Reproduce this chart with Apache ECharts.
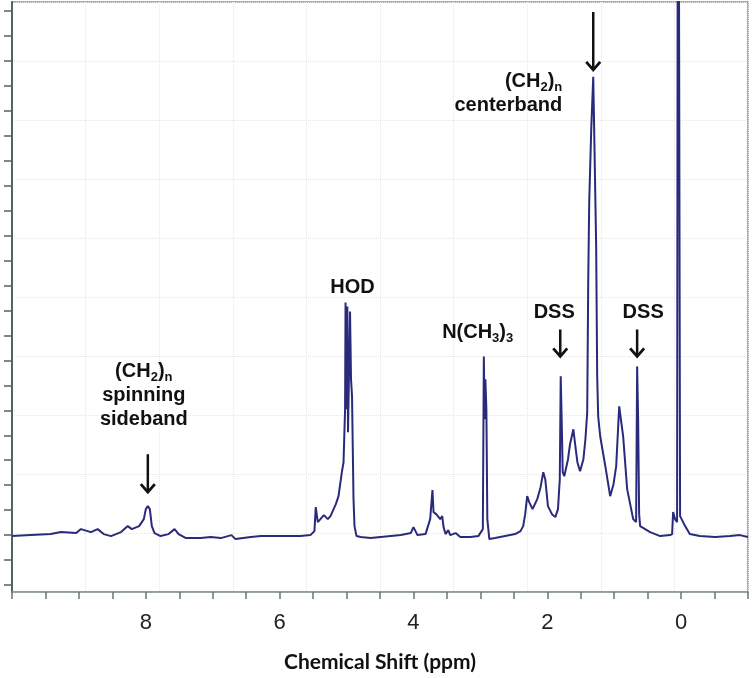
<!DOCTYPE html>
<html>
<head>
<meta charset="utf-8">
<title>1H NMR spectrum</title>
<script src="https://cdn.jsdelivr.net/npm/echarts@6/dist/echarts.min.js"></script>
<style>
  html, body { margin: 0; padding: 0; background: #fff; }
  #chart { width: 752px; height: 678px; }
</style>
</head>
<body>
<div id="chart"></div>
<script>
// trace, high ppm (left) to low ppm (right)
// intensity is in y-tick units, baseline = 0
const shiftPpm = [
  10.0, 9.72, 9.42, 9.27, 9.04, 8.97, 8.82, 8.72, 8.63, 8.52,
  8.37, 8.27, 8.21, 8.10, 8.03, 8.00, 7.97, 7.94, 7.91, 7.87,
  7.78, 7.66, 7.57, 7.51, 7.40, 7.18, 7.03, 6.88, 6.72, 6.66,
  6.43, 6.28, 5.99, 5.69, 5.54, 5.48, 5.46, 5.43, 5.39, 5.34,
  5.28, 5.24, 5.16, 5.12, 5.07, 5.045, 5.022, 5.015, 5.003, 4.988,
  4.978, 4.948, 4.933, 4.918, 4.896, 4.881, 4.851, 4.79, 4.64, 4.49,
  4.34, 4.19, 4.04, 4.00, 3.94, 3.82, 3.75, 3.716, 3.70, 3.66,
  3.60, 3.57, 3.55, 3.52, 3.48, 3.45, 3.37, 3.30, 3.15, 3.03,
  2.963, 2.948, 2.937, 2.925, 2.910, 2.896, 2.866, 2.78, 2.63, 2.48,
  2.40, 2.36, 2.33, 2.30, 2.27, 2.22, 2.15, 2.10, 2.06, 2.03,
  1.99, 1.93, 1.88, 1.84, 1.813, 1.799, 1.784, 1.769, 1.746, 1.69,
  1.66, 1.61, 1.58, 1.55, 1.51, 1.46, 1.43, 1.403, 1.388, 1.373,
  1.343, 1.313, 1.299, 1.269, 1.254, 1.239, 1.209, 1.13, 1.06, 1.01,
  0.97, 0.925, 0.896, 0.866, 0.806, 0.716, 0.672, 0.657, 0.642, 0.627,
  0.612, 0.463, 0.313, 0.164, 0.134, 0.119, 0.090, 0.060, 0.045, 0.030,
  0.015, 0.0, -0.06, -0.13, -0.28, -0.51, -0.73, -0.88, -1.0
]
const intensity = [
  -0.04, 0, 0.04, 0.12, 0.08, 0.24, 0.12, 0.24, 0.04, -0.04,
  0.12, 0.36, 0.24, 0.36, 0.64, 1.04, 1.16, 1.04, 0.36, 0.08,
  -0.04, 0.04, 0.24, 0.04, -0.12, -0.12, -0.08, -0.12, 0, -0.16,
  -0.08, -0.04, -0.04, -0.04, 0, 0.16, 1.12, 0.52, 0.64, 0.8,
  0.64, 0.76, 1.24, 1.56, 2.52, 2.92, 5.04, 9.32, 5.04, 9.16,
  4.12, 8.96, 6.24, 5.56, 1.44, 0.36, -0.04, -0.08, -0.12, -0.08,
  -0.04, 0, 0.08, 0.32, 0, 0.04, 0.64, 1.8, 0.92, 0.84,
  0.64, 0.76, 0.32, 0.04, 0.2, 0, 0.08, -0.08, -0.08, -0.04,
  0.24, 7.16, 4.64, 6.24, 5.04, 0.64, -0.16, -0.12, -0.04, 0.04,
  0.16, 0.36, 0.84, 1.56, 1.32, 1.04, 1.44, 1.92, 2.52, 2.24,
  1.16, 0.84, 0.72, 1.04, 2.24, 6.36, 4.52, 2.52, 2.36, 3.04,
  3.64, 4.24, 3.56, 2.92, 2.56, 3.04, 3.84, 4.92, 10.12, 13.36,
  16.24, 18.36, 16.24, 11.52, 6.36, 4.76, 3.96, 2.72, 1.56, 2.04,
  2.76, 5.16, 5.12, 3.96, 1.84, 0.64, 0.52, 6.76, 4.64, 0.84,
  0.36, 0.12, -0.04, 0, 0.04, 0.92, 0.64, 0.52, 40, 40,
  0.76, 0.76, 0.36, 0.04, -0.04, -0.08, -0.04, 0, -0.08
]

// axis ticks
const xTickLabels = [0, 2, 4, 6, 8]
const xTicks = []
for (let v = -1; v <= 10; v += 0.5) xTicks.push(v)
const yTicks = []
for (let v = -2; v <= 21; v++) yTicks.push(v)

// annotations (ppm, intensity units)
const labelText = [
  '{b|(CH}{s|2}{b|)}{s|n}\n{b|spinning}\n{b|sideband}',
  '{b|HOD}',
  '{b|N(CH}{s|3}{b|)}{s|3}',
  '{b|DSS}',
  '{b|DSS}',
  '{b|(CH}{s|2}{b|)}{s|n}\n{b|centerband}'
]
const labelPpm = [8.03, 4.91, 3.04, 1.896, 0.567, 1.776]
const labelLevel = [5.58, 9.92, 8.12, 8.92, 8.92, 17.68]
const labelAlign = ['center', 'center', 'center', 'center', 'center', 'right']

const arrowPpm = [7.97, 1.806, 0.657, 1.313]
const arrowFrom = [3.24, 8.24, 8.24, 20.96]
const arrowTo = [1.72, 7.16, 7.16, 18.64]

const chart = echarts.init(document.getElementById('chart'))

const dotted = { show: true, lineStyle: { type: 'dotted', color: '#ebe6e6', width: 1 } }

chart.setOption({
  animation: false,
  grid: {
    left: 12, right: 4, top: 2, bottom: 85,
    show: true, borderColor: '#8c9696', borderWidth: 1.5
  },
  xAxis: [
    {
      type: 'value',
      min: -1,
      max: 10,
      inverse: true,
      position: 'bottom',
      name: 'Chemical Shift (ppm)',
      nameLocation: 'middle',
      nameGap: 60,
      nameTextStyle: { fontFamily: 'Lato', fontWeight: 'bold', fontSize: 21, color: '#111' },
      axisLine: { show: true, onZero: false, lineStyle: { color: '#8a9898', width: 1.5 } },
      axisTick: { show: true, inside: false, length: 7, customValues: xTicks, lineStyle: { color: '#6a7474', width: 1.5 } },
      axisLabel: { customValues: xTickLabels, margin: 20, fontFamily: 'Liberation Sans', fontSize: 22, color: '#222' },
      splitLine: { show: false }
    },
    {
      type: 'value', min: 0, max: 10, interval: 1, position: 'top',
      axisLine: { show: false }, axisTick: { show: false }, axisLabel: { show: false },
      splitLine: dotted
    }
  ],
  yAxis: [
    {
      type: 'value',
      min: -2.28,
      max: 21.36,
      axisLine: { show: true, onZero: false, lineStyle: { color: '#556262', width: 2 } },
      axisTick: { show: true, inside: false, length: 8, customValues: yTicks, lineStyle: { color: '#556262', width: 1.5 } },
      axisLabel: { show: false },
      splitLine: { show: false }
    },
    {
      type: 'value', min: 0, max: 10, interval: 1, position: 'right',
      axisLine: { show: false }, axisTick: { show: false }, axisLabel: { show: false },
      splitLine: dotted
    }
  ],
  series: [
    {
      type: 'line',
      xAxisIndex: 0,
      yAxisIndex: 0,
      symbol: 'none',
      clip: true,
      lineStyle: { color: '#2a2a7c', width: 2 },
      data: shiftPpm.map((x, i) => [x, intensity[i]])
    }
  ]
})

function toPx(x, y) {
  return chart.convertToPixel({ xAxisIndex: 0, yAxisIndex: 0 }, [x, y])
}

const graphics = []
const rich = {
  b: { fontFamily: 'Liberation Sans', fontWeight: 'bold', fontSize: 20, lineHeight: 24, fill: '#111' },
  s: { fontFamily: 'Liberation Sans', fontWeight: 'bold', fontSize: 13, lineHeight: 12, verticalAlign: 'bottom', fill: '#111' }
}
labelText.forEach((t, i) => {
  const p = toPx(labelPpm[i], labelLevel[i])
  graphics.push({
    type: 'text',
    x: p[0],
    y: p[1],
    style: { text: t, rich: rich, align: labelAlign[i], verticalAlign: 'middle' }
  })
})
arrowPpm.forEach((x, i) => {
  const a = toPx(x, arrowFrom[i])
  const b = toPx(x, arrowTo[i])
  graphics.push({
    type: 'line',
    shape: { x1: a[0], y1: a[1], x2: b[0], y2: b[1] - 1 },
    style: { stroke: '#111', lineWidth: 2.5 }
  })
  graphics.push({
    type: 'polyline',
    shape: { points: [[b[0] - 7, b[1] - 8], [b[0], b[1]], [b[0] + 7, b[1] - 8]] },
    style: { stroke: '#111', lineWidth: 2.8, fill: null, lineJoin: 'miter' }
  })
})
chart.setOption({ graphic: graphics })
</script>
</body>
</html>
